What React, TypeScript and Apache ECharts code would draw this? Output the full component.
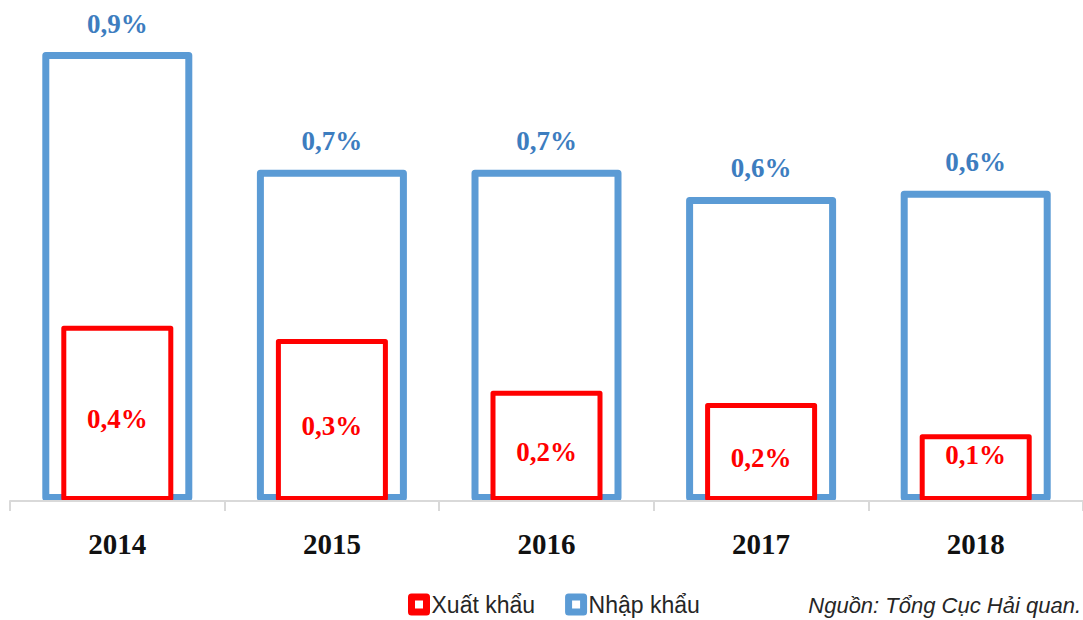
import React, { useEffect, useRef } from "react";
import * as echarts from "echarts";

const years = ["2014", "2015", "2016", "2017", "2018"];
const importShare = [0.92, 0.679, 0.679, 0.623, 0.636];
const exportShare = [0.359, 0.332, 0.226, 0.201, 0.137];
const seriesNames = ["Xuất khẩu", "Nhập khẩu"];
const sourceNote = "Nguồn: Tổng Cục Hải quan.";

const fmt = (v: number) => v.toFixed(1).replace(".", ",") + "%";

export default function App() {
  const ref = useRef<HTMLDivElement>(null);
  useEffect(() => {
    if (!ref.current) return;
    const chart = echarts.init(ref.current, undefined, { renderer: "svg" });
    const labelFont = {
      fontFamily: "Liberation Serif",
      fontWeight: "bold" as const,
      fontSize: 27,
    };
    chart.setOption({
      animation: false,
      backgroundColor: "#ffffff",
      grid: { left: 10, top: 13, width: 1075, height: 488, containLabel: false },
      xAxis: [
        {
          type: "category",
          data: years,
          offset: 2,
          z: 5,
          axisLine: { show: true, lineStyle: { color: "#d9d9d9", width: 2 } },
          axisTick: { show: true, length: 10, lineStyle: { color: "#d9d9d9", width: 2 } },
          axisLabel: {
            color: "#111111",
            fontFamily: "Liberation Serif",
            fontWeight: "bold",
            fontSize: 29,
            margin: 26,
          },
        },
        { type: "category", data: years, show: false },
      ],
      yAxis: {
        type: "value",
        min: 0,
        max: 1,
        show: false,
        splitLine: { show: false },
      },
      legend: {
        left: 403,
        top: 588,
        itemWidth: 15,
        itemHeight: 15,
        itemGap: 30,
        icon: "rect",
        textStyle: { fontFamily: "Liberation Sans", fontSize: 23, color: "#262626" },
        data: [
          {
            name: seriesNames[0],
            itemStyle: { color: "#ffffff", borderColor: "#ff0000", borderWidth: 7 },
          },
          {
            name: seriesNames[1],
            itemStyle: { color: "#ffffff", borderColor: "#5b9bd5", borderWidth: 7 },
          },
        ],
      },
      graphic: [
        {
          type: "text",
          right: 2,
          top: 594,
          style: {
            text: sourceNote,
            fontFamily: "Liberation Sans",
            fontStyle: "italic",
            fontSize: 22,
            fill: "#262626",
          },
        },
      ],
      series: [
        {
          name: seriesNames[1],
          type: "bar",
          xAxisIndex: 0,
          barWidth: 150,
          data: importShare,
          itemStyle: {
            color: "#ffffff",
            borderColor: "#5b9bd5",
            borderWidth: 7,
            borderJoin: "round",
          },
          label: {
            show: true,
            position: "top",
            distance: 15,
            color: "#3d7dbf",
            ...labelFont,
            formatter: (p: any) => fmt(p.value),
          },
        },
        {
          name: seriesNames[0],
          type: "bar",
          xAxisIndex: 1,
          barWidth: 112,
          data: exportShare.map((v, i) =>
            i === exportShare.length - 1 ? { value: v, label: { offset: [0, -13] } } : v
          ),
          itemStyle: {
            color: "#ffffff",
            borderColor: "#ff0000",
            borderWidth: 5,
            borderJoin: "round",
          },
          label: {
            show: true,
            position: "inside",
            offset: [0, 6],
            color: "#ff0000",
            ...labelFont,
            formatter: (p: any) => fmt(p.value),
          },
        },
      ],
    });
    return () => chart.dispose();
  }, []);
  return (
    <div
      ref={ref}
      style={{ position: "absolute", left: 0, top: 0, width: 1083, height: 620 }}
    />
  );
}
